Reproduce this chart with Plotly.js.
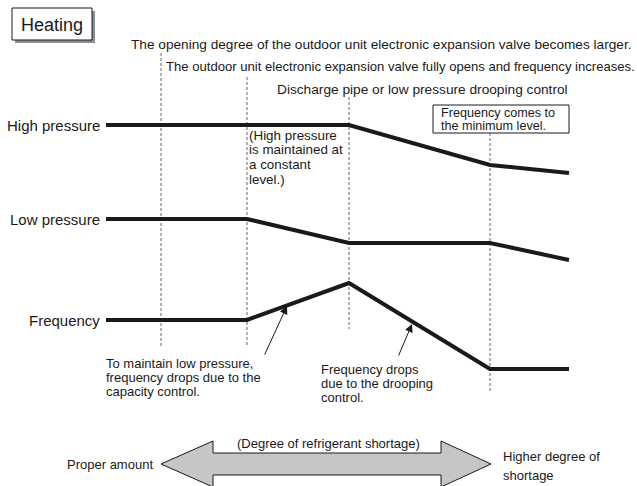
<!DOCTYPE html>
<html>
<head>
<meta charset="utf-8">
<script src="https://cdn.plot.ly/plotly-3.0.1.min.js"></script>
<style>
  html, body { margin: 0; padding: 0; background: #fff; }
  #chart { width: 637px; height: 486px; }
</style>
</head>
<body>
<div id="chart"></div>
<script>
// breakpoints along the "degree of refrigerant shortage" axis
var stageX = [106, 247, 349, 490, 569];
var highPressure = [125, 125, 125, 165, 173];
var lowPressure = [219, 219, 243, 243, 260];
var frequency = [320, 320, 283, 369, 369];

var seriesNames = ['High pressure', 'Low pressure', 'Frequency'];

// stage boundaries (dashed)
var stageBounds = [161, 247, 349, 490];
var boundTop = [53, 77, 97, 133];
var boundBottom = [347, 345, 329, 392];

var font = 'Liberation Sans, Arial, Helvetica, sans-serif';
var ink = '#1a1a1a';

var dashX = [], dashY = [];
stageBounds.forEach(function (x, i) {
  dashX.push(x, x, null);
  dashY.push(boundTop[i], boundBottom[i], null);
});

var data = [
  {x: dashX, y: dashY, mode: 'lines', type: 'scatter', hoverinfo: 'skip',
   line: {color: '#666', width: 1, dash: '3px,2px'}},
  {x: stageX, y: highPressure, name: seriesNames[0], mode: 'lines', type: 'scatter',
   line: {color: ink, width: 4}},
  {x: stageX, y: lowPressure, name: seriesNames[1], mode: 'lines', type: 'scatter',
   line: {color: ink, width: 4}},
  {x: stageX, y: frequency, name: seriesNames[2], mode: 'lines', type: 'scatter',
   line: {color: ink, width: 4}}
];

var ann = [];
function txt(x, y, s, size, anchor) {
  ann.push({x: x, y: y, xref: 'x', yref: 'y', text: s, showarrow: false,
    xanchor: anchor || 'left', yanchor: 'middle', borderpad: 0,
    font: {family: font, size: size, color: ink}});
}
function lines(x, y0, step, arr, size) {
  arr.forEach(function (s, i) { txt(x, y0 + i * step, s, size); });
}

// series labels
txt(101, highPressure[0], seriesNames[0], 15, 'right');
txt(101, lowPressure[0], seriesNames[1], 15, 'right');
txt(101, frequency[0], seriesNames[2], 15, 'right');

// stage captions
txt(130, 44, 'The opening degree of the outdoor unit electronic expansion valve becomes larger.', 13.65);
txt(165, 66, 'The outdoor unit electronic expansion valve fully opens and frequency increases.', 13.1);
txt(276, 89, 'Discharge pipe or low pressure drooping control', 13.7);

txt(52, 25, 'Heating', 18, 'center');

lines(248, 135, 14.7, ['(High pressure', 'is maintained at', 'a constant', 'level.)'], 13.4);
lines(440, 113, 12.5, ['Frequency comes to', 'the minimum level.'], 12.6);
lines(105, 363, 14, ['To maintain low pressure,', 'frequency drops due to the', 'capacity control.'], 13);
lines(320, 369, 14, ['Frequency drops', 'due to the drooping', 'control.'], 13);

txt(328, 443, '(Degree of refrigerant shortage)', 13, 'center');
txt(154, 464, 'Proper amount', 13, 'right');
lines(502, 456, 19, ['Higher degree of', 'shortage'], 13);

// pointer arrows onto the frequency line
[[287, 306, 264, 356], [412, 324, 398, 357]].forEach(function (a) {
  ann.push({x: a[0], y: a[1], ax: a[2], ay: a[3], xref: 'x', yref: 'y',
    axref: 'x', ayref: 'y', text: '', showarrow: true,
    arrowhead: 2, arrowsize: 1.6, arrowwidth: 1, arrowcolor: ink});
});

// double arrow outline
var arrowMid = 464, tipL = 161, tipR = 491, headL = 213, headR = 441;
var shaftHalf = 11, headHalf = 23;
var arrowPath = 'M' + tipL + ',' + arrowMid +
  ' L' + headL + ',' + (arrowMid - headHalf) +
  ' L' + headL + ',' + (arrowMid - shaftHalf) +
  ' L' + headR + ',' + (arrowMid - shaftHalf) +
  ' L' + headR + ',' + (arrowMid - headHalf) +
  ' L' + tipR + ',' + arrowMid +
  ' L' + headR + ',' + (arrowMid + headHalf) +
  ' L' + headR + ',' + (arrowMid + shaftHalf) +
  ' L' + headL + ',' + (arrowMid + shaftHalf) +
  ' L' + headL + ',' + (arrowMid + headHalf) + ' Z';

var shapes = [
  {type: 'rect', xref: 'x', yref: 'y', x0: 15, x1: 95, y0: 11, y1: 43,
   fillcolor: '#8a8f94', line: {width: 0}, layer: 'below'},
  {type: 'rect', xref: 'x', yref: 'y', x0: 12, x1: 92, y0: 8, y1: 40,
   fillcolor: '#fff', line: {color: ink, width: 1}, layer: 'below'},
  {type: 'rect', xref: 'x', yref: 'y', x0: 433, x1: 569, y0: 105, y1: 133,
   fillcolor: '#fff', line: {color: ink, width: 1}},
  {type: 'path', xref: 'x', yref: 'y', path: arrowPath,
   fillcolor: '#c6c6c6', line: {color: ink, width: 1}}
];

var layout = {
  width: 637, height: 486,
  margin: {t: 0, b: 0, l: 0, r: 0},
  paper_bgcolor: '#fff', plot_bgcolor: '#fff',
  showlegend: false,
  xaxis: {range: [0, 637], visible: false, fixedrange: true},
  yaxis: {range: [486, 0], visible: false, fixedrange: true},
  annotations: ann,
  shapes: shapes,
  font: {family: font}
};

Plotly.newPlot('chart', data, layout, {displayModeBar: false, staticPlot: true});
</script>
</body>
</html>
